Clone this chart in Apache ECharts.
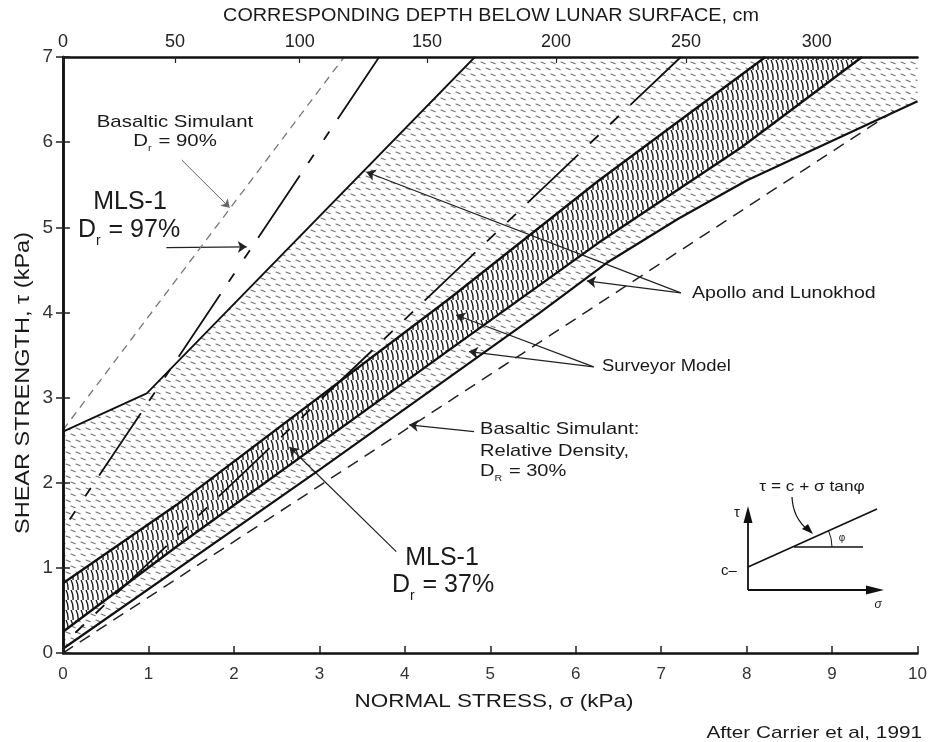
<!DOCTYPE html>
<html><head><meta charset="utf-8">
<script src="https://cdn.jsdelivr.net/npm/echarts@6/dist/echarts.min.js"></script>
<style>html,body{margin:0;padding:0;background:#fff}#c{width:930px;height:742px}</style>
</head><body><div id="c"></div>
<script>
// ---- data (kPa) ----
const stressMax = 10, shearMax = 7;
const depthLabels = [0, 50, 100, 150, 200, 250, 300];          // cm
const depthStress = [0, 1.31, 2.77, 4.26, 5.77, 7.29, 8.82];    // kPa positions of depth ticks
const apolloUpper = [[0, 2.6], [0.98, 3.05], [4.82, 7]];
const apolloLower = [[0, 0.05], [3, 2.15], [5.57, 3.99], [6.36, 4.58], [7.2, 5.1], [8, 5.55], [10, 6.48]];
const surveyorUpper = [[0, 0.82], [1.33, 1.74], [4.52, 4.16], [6.27, 5.55], [8.22, 7]];
const surveyorLower = [[0, 0.25], [1.33, 1.25], [4.52, 3.56], [6.27, 4.82], [7.94, 5.94], [9.35, 7]];
const mls97 = [[0, 1.45], [3.70, 7]];
const mls37 = [[0, 0.1], [7.23, 7]];
const basalt90 = [[0, 2.62], [3.29, 7]];
const basalt30 = [[0, 0], [9.75, 6.38]];
// annotation arrows: [from, to] in kPa
const arrowsDark = [
  [[1.21, 4.76], [2.15, 4.77]],
  [[7.23, 4.23], [3.55, 5.65]],
  [[7.23, 4.23], [6.13, 4.37]],
  [[6.21, 3.36], [4.60, 3.97]],
  [[6.21, 3.36], [4.75, 3.54]],
  [[4.81, 2.60], [4.05, 2.68]],
  [[3.90, 1.19], [2.65, 2.42]]
];
const arrowsGray = [[[1.39, 5.79], [1.95, 5.23]]];

// ---- patterns ----
function makeStipple() {
  const c = document.createElement('canvas'); c.width = 10; c.height = 12;
  const g = c.getContext('2d');
  g.fillStyle = '#fff'; g.fillRect(0, 0, 10, 12);
  g.strokeStyle = 'rgba(80,80,80,0.8)'; g.lineWidth = 1.1; g.lineCap = 'round';
  const d = (x, y) => { g.beginPath(); g.moveTo(x, y); g.lineTo(x + 4.2, y + 1.8); g.stroke(); };
  d(1, 2); d(6, 8); d(-4, 8);
  return c;
}
function makeHatch() {
  const c = document.createElement('canvas'); c.width = 5; c.height = 10;
  const g = c.getContext('2d');
  g.fillStyle = '#fff'; g.fillRect(0, 0, 5, 10);
  g.strokeStyle = '#1a1a1a'; g.lineWidth = 1.35;
  g.beginPath(); g.moveTo(1.0, 0); g.quadraticCurveTo(3.6, 5, 3.0, 10); g.stroke();
  return c;
}
const stipple = makeStipple(), hatch = makeHatch();

function polySeries(name, upper, lower, img, z) {
  return {
    type: 'custom', name, silent: true, clip: true, z, xAxisIndex: 0, yAxisIndex: 0,
    data: [0],
    renderItem: (params, api) => {
      const pts = upper.concat(lower.slice().reverse()).map(p => api.coord(p));
      return { type: 'polygon', shape: { points: pts }, style: { fill: { image: img, repeat: 'repeat' }, stroke: null } };
    }
  };
}
function lineSeries(name, data, style, z) {
  return { type: 'line', name, data, symbol: 'none', silent: true, lineStyle: style, z: z || 5, clip: true };
}

const FONT = '"Liberation Sans", Arial, Helvetica, sans-serif';
const SX = 1.15;
function txt(x, y, text, size, align, extra) {
  return Object.assign({
    type: 'text', x, y, scaleX: SX, silent: true, z: 100,
    style: { text, font: size + 'px ' + FONT, fill: '#1a1a1a', align: align || 'left', verticalAlign: 'middle' }
  }, extra || {});
}
function subTxt(x, y, pre, sub, post, size, align, sx) {
  return {
    type: 'text', x, y, scaleX: sx || SX, silent: true, z: 100,
    style: {
      text: '{a|' + pre + '}{b|' + sub + '}{a|' + post + '}',
      align: align || 'center', verticalAlign: 'middle',
      rich: {
        a: { fontFamily: FONT, fontSize: size, fill: '#1a1a1a', verticalAlign: 'bottom', padding: [0, 0, Math.round(size * 0.25), 0] },
        b: { fontFamily: FONT, fontSize: Math.round(size * 0.55), fill: '#1a1a1a', verticalAlign: 'bottom', padding: [0, 1, 0, 0] }
      }
    }
  };
}

const markData = arrowsDark.map(a => [{ coord: a[0] }, { coord: a[1] }]);
const markGray = arrowsGray.map(a => [{ coord: a[0] }, { coord: a[1] }]);
const AX_Z = 10;

const chart = echarts.init(document.getElementById('c'), null, { renderer: 'canvas' });
chart.setOption({
  animation: false,
  backgroundColor: '#fff',
  grid: { left: 63, right: 11, top: 57, bottom: 89 },
  xAxis: [
    {
      type: 'value', position: 'bottom', min: 0, max: stressMax, interval: 1, z: AX_Z,
      axisLine: { lineStyle: { color: '#111', width: 2.5 } },
      axisTick: { inside: true, length: 7, lineStyle: { color: '#222', width: 1.5 } },
      axisLabel: { margin: 13, fontSize: 17, fontFamily: FONT, color: '#333' },
      splitLine: { show: false }
    },
    {
      type: 'value', position: 'top', min: 0, max: stressMax, z: AX_Z,
      axisLine: { show: true, onZero: false, lineStyle: { color: '#111', width: 2.5 } },
      axisTick: { show: true, inside: true, length: 6, customValues: depthStress, lineStyle: { color: '#222', width: 1.2 } },
      axisLabel: {
        show: true, margin: 6, fontSize: 18, fontFamily: FONT, color: '#222', customValues: depthStress,
        formatter: v => { const i = depthStress.indexOf(v); return i >= 0 ? String(depthLabels[i]) : ''; }
      },
      splitLine: { show: false }
    }
  ],
  yAxis: [
    {
      type: 'value', position: 'left', min: 0, max: shearMax, interval: 1, z: AX_Z,
      axisLine: { show: true, lineStyle: { color: '#111', width: 2.5 } },
      axisTick: { show: true, inside: true, length: 7, lineStyle: { color: '#222', width: 1.5 } },
      axisLabel: { margin: 10, fontSize: 19, fontFamily: FONT, color: '#333' },
      splitLine: { show: false }
    },
    {
      type: 'value', position: 'right', min: 0, max: shearMax, interval: 1, z: AX_Z,
      axisLine: { show: true, lineStyle: { color: '#111', width: 2.5 } },
      axisTick: { show: true, inside: true, length: 7, lineStyle: { color: '#222', width: 1.5 } },
      axisLabel: { show: false }, splitLine: { show: false }
    }
  ],
  series: [
    polySeries('Apollo and Lunokhod', apolloUpper.concat([[stressMax, shearMax]]), apolloLower, stipple, 1),
    polySeries('Surveyor Model', surveyorUpper, surveyorLower, hatch, 2),
    lineSeries('Surveyor upper', surveyorUpper, { color: '#111', width: 2.4 }, 4),
    lineSeries('Surveyor lower', surveyorLower, { color: '#111', width: 2.4 }, 4),
    lineSeries('Apollo upper', apolloUpper, { color: '#111', width: 1.8 }),
    lineSeries('Apollo lower', apolloLower, { color: '#111', width: 2.2 }),
    lineSeries('Basaltic Simulant Dr=90%', basalt90, { color: '#777', width: 1.3, type: [8, 6] }),
    lineSeries('Basaltic Simulant Dr=30%', basalt30, { color: '#222', width: 1.5, type: [12, 8] }),
    lineSeries('MLS-1 Dr=97%', mls97, { color: '#111', width: 1.8, type: [75, 15, 10, 18, 10, 15], dashOffset: 78 }),
    lineSeries('MLS-1 Dr=37%', mls37, { color: '#111', width: 1.8, type: [70, 16, 12, 16, 12, 16], dashOffset: 69 }),
    {
      type: 'line', name: 'arrows', data: [], silent: true, z: 20,
      markLine: {
        silent: true, animation: false, symbol: ['none', 'arrow'], symbolSize: 9,
        label: { show: false }, lineStyle: { color: '#222', width: 1.2, type: 'solid' },
        data: markData
      }
    },
    {
      type: 'line', name: 'arrows2', data: [], silent: true, z: 20,
      markLine: {
        silent: true, animation: false, symbol: ['none', 'arrow'], symbolSize: 8,
        label: { show: false }, lineStyle: { color: '#666', width: 1, type: 'solid' },
        data: markGray
      }
    }
  ],
  graphic: [
    // axis titles
    txt(491, 16, 'CORRESPONDING DEPTH BELOW LUNAR SURFACE, cm', 18, 'center', { scaleX: 1.1 }),
    txt(494, 702, 'NORMAL STRESS, σ (kPa)', 18, 'center', { scaleX: 1.25 }),
    txt(23, 383, 'SHEAR STRENGTH, τ (kPa)', 21, 'center', { scaleX: 1.12, rotation: Math.PI / 2 }),
    // annotations
    txt(175, 122, 'Basaltic Simulant', 17, 'center', { scaleX: 1.2 }),
    subTxt(175, 143, 'D', 'r', ' = 90%', 17, 'center', 1.2),
    txt(130, 202, 'MLS-1', 25, 'center', { scaleX: 1 }),
    subTxt(129, 233, 'D', 'r', ' = 97%', 25, 'center', 1),
    txt(692, 293, 'Apollo and Lunokhod', 17, 'left'),
    txt(602, 367, 'Surveyor Model', 16, 'left'),
    txt(480, 429, 'Basaltic Simulant:', 17, 'left', { scaleX: 1.18 }),
    txt(480, 451, 'Relative Density,', 17, 'left', { scaleX: 1.18 }),
    subTxt(480, 473, 'D', 'R', ' = 30%', 17, 'left', 1.18),
    txt(442, 558, 'MLS-1', 25, 'center', { scaleX: 1 }),
    subTxt(443, 588, 'D', 'r', ' = 37%', 25, 'center', 1),
    txt(922, 733, 'After Carrier et al, 1991', 17, 'right', { scaleX: 1.22 }),
    // inset diagram
    { type: 'line', silent: true, z: 100, shape: { x1: 748, y1: 590, x2: 748, y2: 515 }, style: { stroke: '#111', lineWidth: 1.8 } },
    { type: 'polygon', silent: true, z: 100, shape: { points: [[743.5, 523], [752.5, 523], [748, 506]] }, style: { fill: '#111' } },
    { type: 'line', silent: true, z: 100, shape: { x1: 748, y1: 590, x2: 872, y2: 590 }, style: { stroke: '#111', lineWidth: 1.8 } },
    { type: 'polygon', silent: true, z: 100, shape: { points: [[866, 585.5], [866, 594.5], [884, 590]] }, style: { fill: '#111' } },
    { type: 'line', silent: true, z: 100, shape: { x1: 748, y1: 567, x2: 877, y2: 509 }, style: { stroke: '#111', lineWidth: 1.6 } },
    { type: 'line', silent: true, z: 100, shape: { x1: 794, y1: 547, x2: 863, y2: 547 }, style: { stroke: '#111', lineWidth: 1.4 } },
    { type: 'arc', silent: true, z: 100, shape: { cx: 792, cy: 547, r: 40, startAngle: -0.42, endAngle: 0, clockwise: true }, style: { stroke: '#111', lineWidth: 1, fill: null } },
    { type: 'bezierCurve', silent: true, z: 100, shape: { x1: 792, y1: 497, cpx1: 793, cpy1: 518, x2: 808, y2: 530 }, style: { stroke: '#111', lineWidth: 1.2, fill: null } },
    { type: 'polygon', silent: true, z: 100, shape: { points: [[802, 529], [808, 524], [813, 534]] }, style: { fill: '#111' } },
    txt(812, 487, 'τ = c + σ tanφ', 15, 'center'),
    txt(737, 513, 'τ', 15, 'center', { scaleX: 1 }),
    txt(729, 571, 'c–', 15, 'center', { scaleX: 1 }),
    txt(878, 605, 'σ', 12, 'center', { scaleX: 1, style: { text: 'σ', font: 'italic 12px ' + FONT, fill: '#1a1a1a', align: 'center', verticalAlign: 'middle' } }),
    txt(842, 538, 'φ', 10, 'center', { scaleX: 1 })
  ]
});
</script></body></html>
